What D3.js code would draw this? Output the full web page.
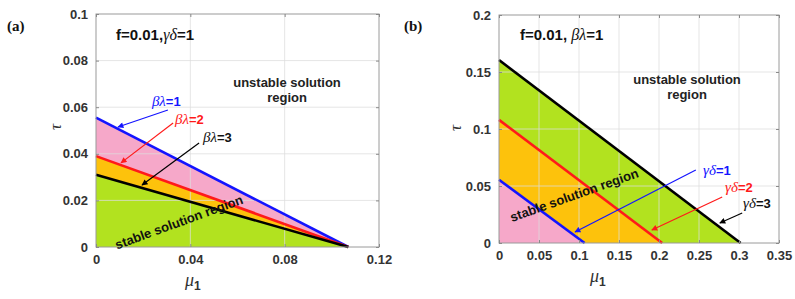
<!DOCTYPE html>
<html><head><meta charset="utf-8">
<script src="https://cdn.jsdelivr.net/npm/d3@7/dist/d3.min.js"></script>
<style>body{margin:0;background:#fff}svg{display:block}</style>
</head><body>
<svg id="c" width="795" height="299"></svg>
<script>
// ---------- data ----------
// Panel (a): f=0.01, γδ=1 ; boundary lines for βλ = 1,2,3 (τ intercept, μ1 intercept)
const aLabels = ["βλ=1", "βλ=2", "βλ=3"];
const aTauIntercept = [0.0555, 0.039, 0.031];
const aMuIntercept = [0.107, 0.107, 0.107];
const aXTicks = [0, 0.04, 0.08, 0.12];
const aYTicks = [0, 0.02, 0.04, 0.06, 0.08, 0.1];
// Panel (b): f=0.01, βλ=1 ; boundary lines for γδ = 1,2,3
const bLabels = ["γδ=1", "γδ=2", "γδ=3"];
const bTauIntercept = [0.0555, 0.108, 0.1605];
const bMuIntercept = [0.107, 0.204, 0.302];
const bXTicks = [0, 0.05, 0.1, 0.15, 0.2, 0.25, 0.3, 0.35];
const bYTicks = [0, 0.05, 0.1, 0.15, 0.2];

const lineColors = ["#1414ff", "#ff1a1a", "#000000"];
const aFill = ["#f6a8c9", "#fdc20c", "#b2e21f"];  // pink (1..2), orange (2..3), green (<3)
const bFill = ["#f6a8c9", "#fdc20c", "#b2e21f"];  // pink (<1), orange (1..2), green (2..3)

const svg = d3.select("#c");
const defs = svg.append("defs");
lineColors.forEach((c, i) => {
  defs.append("marker").attr("id", "ah" + i).attr("viewBox", "0 0 10 10")
    .attr("refX", 9).attr("refY", 5).attr("markerWidth", 7).attr("markerHeight", 6)
    .attr("markerUnits", "userSpaceOnUse").attr("orient", "auto")
    .append("path").attr("d", "M0,0 L10,5 L0,10 z").attr("fill", c);
});

const SANS = "'Liberation Sans', Arial, sans-serif";
const SERIF = "'Liberation Serif', 'Times New Roman', serif";

function greekLabel(sel, text) {
  sel.append("tspan").attr("font-family", SERIF).attr("font-style", "italic")
    .attr("font-weight", "normal").attr("font-size", 15).text(text.slice(0, 2));
  sel.append("tspan").attr("font-family", SANS).attr("font-weight", "bold").text(text.slice(2));
}

function panel(cfg) {
  const x = d3.scaleLinear().domain(cfg.xDomain).range([cfg.left, cfg.right]);
  const y = d3.scaleLinear().domain(cfg.yDomain).range([cfg.bottom, cfg.top]);
  const g = svg.append("g");

  const order = d3.range(cfg.tau.length).sort((a, b) => cfg.tau[b] * cfg.mu[b] - cfg.tau[a] * cfg.mu[a]);
  order.forEach(i => {
    const pts = [[0, 0], [0, cfg.tau[i]], [cfg.mu[i], 0]];
    g.append("path").attr("d", d3.line().x(d => x(d[0])).y(d => y(d[1]))(pts) + "Z")
      .attr("fill", cfg.fills[i]);
  });

  g.selectAll(".gx").data(cfg.xTicks.slice(1, -1)).join("line")
    .attr("x1", d => x(d)).attr("x2", d => x(d)).attr("y1", cfg.top).attr("y2", cfg.bottom)
    .attr("stroke", "#dcdcdc").attr("stroke-opacity", 0.75).attr("stroke-width", 1);
  g.selectAll(".gy").data(cfg.yTicks.slice(1, -1)).join("line")
    .attr("y1", d => y(d)).attr("y2", d => y(d)).attr("x1", cfg.left).attr("x2", cfg.right)
    .attr("stroke", "#dcdcdc").attr("stroke-opacity", 0.75).attr("stroke-width", 1);

  cfg.tau.forEach((t, i) => {
    g.append("line").attr("x1", x(0)).attr("y1", y(t)).attr("x2", x(cfg.mu[i])).attr("y2", y(0))
      .attr("stroke", lineColors[i]).attr("stroke-width", 2.6);
  });

  g.append("rect").attr("x", cfg.left).attr("y", cfg.top)
    .attr("width", cfg.right - cfg.left).attr("height", cfg.bottom - cfg.top)
    .attr("fill", "none").attr("stroke", "#9a9a9a").attr("stroke-width", 1);

  const ax = g.append("g").attr("transform", `translate(0,${cfg.bottom})`)
    .call(d3.axisBottom(x).tickValues(cfg.xTicks).tickSizeInner(-3).tickSizeOuter(0).tickPadding(8)
      .tickFormat(d => d3.format("~g")(d)));
  const axT = g.append("g").attr("transform", `translate(0,${cfg.top})`)
    .call(d3.axisTop(x).tickValues(cfg.xTicks).tickSizeInner(-3).tickSizeOuter(0).tickFormat(""));
  const ay = g.append("g").attr("transform", `translate(${cfg.left},0)`)
    .call(d3.axisLeft(y).tickValues(cfg.yTicks).tickSizeInner(-3).tickSizeOuter(0).tickPadding(8)
      .tickFormat(d => d3.format("~g")(d)));
  const ayR = g.append("g").attr("transform", `translate(${cfg.right},0)`)
    .call(d3.axisRight(y).tickValues(cfg.yTicks).tickSizeInner(-3).tickSizeOuter(0).tickFormat(""));
  [ax, axT, ay, ayR].forEach(a => {
    a.select(".domain").remove();
    a.selectAll(".tick line").attr("stroke", "#8a8a8a");
    a.selectAll("text").attr("font-family", SANS).attr("font-weight", "bold")
      .attr("font-size", 13).attr("fill", "#333");
  });

  g.append("text").attr("x", cfg.muLabel[0]).attr("y", cfg.muLabel[1]).attr("fill", "#333")
    .call(s => {
      s.append("tspan").attr("font-family", SERIF).attr("font-style", "italic").attr("font-size", 18).text("μ");
      s.append("tspan").attr("font-family", SANS).attr("font-weight", "bold").attr("font-size", 12).attr("dy", 4).text("1");
    });
  g.append("text").attr("transform", `translate(${cfg.tauLabel[0]},${cfg.tauLabel[1]}) rotate(-90)`)
    .attr("text-anchor", "middle").attr("font-family", SERIF).attr("font-style", "italic")
    .attr("font-size", 17).attr("fill", "#333").text("τ");

  svg.append("text").attr("x", cfg.tag[0]).attr("y", cfg.tag[1]).attr("font-family", SERIF)
    .attr("font-weight", "bold").attr("font-size", 15).attr("fill", "#111").text(cfg.tagText);

  g.append("text").attr("x", cfg.param[0]).attr("y", cfg.param[1]).attr("font-size", 15).attr("fill", "#111")
    .call(s => {
      s.append("tspan").attr("font-family", SANS).attr("font-weight", "bold").text(cfg.paramText[0]);
      s.append("tspan").attr("font-family", SERIF).attr("font-style", "italic").attr("font-size", 16).text(cfg.paramText[1]);
      s.append("tspan").attr("font-family", SANS).attr("font-weight", "bold").text(cfg.paramText[2]);
    });

  const u = g.append("text").attr("text-anchor", "middle").attr("font-family", SANS)
    .attr("font-weight", "bold").attr("font-size", 13).attr("fill", "#222");
  u.append("tspan").attr("x", x(cfg.unstable[0])).attr("y", y(cfg.unstable[1])).text("unstable solution");
  u.append("tspan").attr("x", x(cfg.unstable[0])).attr("dy", 15).text("region");

  g.append("text").attr("transform", `translate(${x(cfg.stable[0])},${y(cfg.stable[1])}) rotate(${cfg.stable[2]})`)
    .attr("text-anchor", "middle").attr("dominant-baseline", "central").attr("font-family", SANS)
    .attr("font-weight", "bold").attr("font-size", 13).attr("fill", "#111").text("stable solution region");

  cfg.labels.forEach((lab, i) => {
    const a = cfg.arrows[i];
    g.append("line").attr("x1", x(a[0])).attr("y1", y(a[1])).attr("x2", x(a[2])).attr("y2", y(a[3]))
      .attr("stroke", lineColors[i]).attr("stroke-width", 1.2).attr("marker-end", `url(#ah${i})`);
    const p = cfg.labelPos[i];
    g.append("text").attr("x", x(p[0])).attr("y", y(p[1])).attr("font-size", 13)
      .attr("fill", lineColors[i] === "#000000" ? "#111" : lineColors[i]).call(s => greekLabel(s, lab));
  });
}

panel({
  left: 96, right: 379, top: 14, bottom: 247,
  xDomain: [0, 0.12], yDomain: [0, 0.1], xTicks: aXTicks, yTicks: aYTicks,
  tau: aTauIntercept, mu: aMuIntercept, fills: aFill, labels: aLabels,
  arrows: [[0.0305, 0.0588, 0.0093, 0.0515], [0.0327, 0.0532, 0.0106, 0.0361], [0.0437, 0.0446, 0.0195, 0.0266]],
  labelPos: [[0.0237, 0.0605], [0.0335, 0.0528], [0.0454, 0.0451]],
  unstable: [0.081, 0.0688], stable: [0.0352, 0.0107, -20],
  muLabel: [185, 286], tauLabel: [61, 127], tag: [7, 31], tagText: "(a)",
  param: [116, 40], paramText: ["f=0.01,", "γδ", "=1"]
});
panel({
  left: 499, right: 779, top: 15, bottom: 243,
  xDomain: [0, 0.35], yDomain: [0, 0.2], xTicks: bXTicks, yTicks: bYTicks,
  tau: bTauIntercept, mu: bMuIntercept, fills: bFill, labels: bLabels,
  arrows: [[0.246, 0.064, 0.095, 0.0096], [0.279, 0.0404, 0.191, 0.0114], [0.304, 0.0263, 0.276, 0.0175]],
  labelPos: [[0.255, 0.0596], [0.2825, 0.0447], [0.305, 0.0307]],
  unstable: [0.235, 0.1395], stable: [0.094, 0.042, -19.5],
  muLabel: [590, 282], tauLabel: [461, 128], tag: [404, 31], tagText: "(b)",
  param: [520, 40], paramText: ["f=0.01, ", "βλ", "=1"]
});
</script>
</body></html>
